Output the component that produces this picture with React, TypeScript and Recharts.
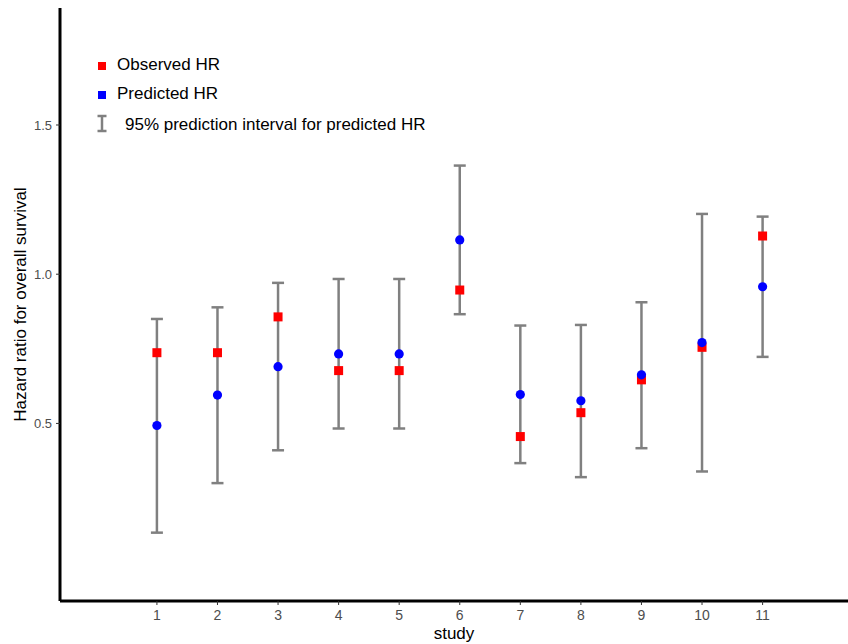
import { ScatterChart, Scatter, XAxis, YAxis, ErrorBar, Legend } from 'recharts';

const studies = [1, 2, 3, 4, 5, 6, 7, 8, 9, 10, 11];
const observedHR = [0.737, 0.737, 0.857, 0.677, 0.677, 0.947, 0.456, 0.536, 0.646, 0.755, 1.128];
const predictedHR = [0.493, 0.595, 0.69, 0.733, 0.733, 1.115, 0.597, 0.576, 0.663, 0.771, 0.958];
const lowerPI = [0.134, 0.3, 0.41, 0.483, 0.483, 0.866, 0.367, 0.32, 0.417, 0.339, 0.723];
const upperPI = [0.85, 0.889, 0.971, 0.984, 0.984, 1.364, 0.828, 0.83, 0.906, 1.202, 1.193];
const yTicks = [0.5, 1.0, 1.5];

const FONT = '"Liberation Sans", Arial, sans-serif';
const BAR_GREY = '#808080';

const observedData = studies.map((s, i) => ({ x: s, y: observedHR[i] }));
const predictedData = studies.map((s, i) => ({ x: s, y: predictedHR[i] }));
const intervalData = studies.map((s, i) => ({
  x: s,
  y: predictedHR[i],
  err: [predictedHR[i] - lowerPI[i], upperPI[i] - predictedHR[i]],
}));

const Square = (props: any) => {
  const { cx, cy } = props;
  return <rect x={cx - 4.5} y={cy - 4.5} width={9} height={9} fill="#ff0000" />;
};

const Dot = (props: any) => {
  const { cx, cy } = props;
  return <circle cx={cx} cy={cy} r={4.6} fill="#0000ff" />;
};

const Nothing = () => <g />;

const LegendBox = () => (
  <svg width={360} height={90} style={{ display: 'block' }}>
    <rect x={8} y={12} width={8} height={8} fill="#ff0000" />
    <text x={27} y={20} fontSize={17} fontFamily={FONT} fill="#000">Observed HR</text>
    <rect x={8} y={41} width={8} height={8} fill="#0000ff" />
    <text x={27} y={49} fontSize={17} fontFamily={FONT} fill="#000">Predicted HR</text>
    <g stroke={BAR_GREY} strokeWidth={2.5}>
      <line x1={12} y1={66} x2={12} y2={81} />
      <line x1={7.5} y1={66} x2={16.5} y2={66} />
      <line x1={7.5} y1={81} x2={16.5} y2={81} />
    </g>
    <text x={35} y={80} fontSize={17} fontFamily={FONT} fill="#000">95% prediction interval for predicted HR</text>
  </svg>
);

export default function App() {
  return (
    <div style={{ position: 'absolute', left: 0, top: 0, width: 848, height: 644, background: '#fff' }}>
      <ScatterChart width={848} height={644} margin={{ top: 8, right: 0, bottom: 0, left: 0 }}>
        <XAxis
          type="number"
          dataKey="x"
          domain={[-0.6, 12.41]}
          ticks={studies}
          allowDataOverflow
          height={43}
          axisLine={{ stroke: '#000', strokeWidth: 3 }}
          tickLine={{ stroke: '#333' }}
          tickSize={4}
          tickMargin={5}
          tick={{ fill: '#4d4d4d', fontSize: 14, fontFamily: FONT }}
          label={{ value: 'study', position: 'insideBottom', offset: 5, fill: '#000', fontSize: 17, fontFamily: FONT }}
        />
        <YAxis
          type="number"
          dataKey="y"
          domain={[-0.095, 1.892]}
          ticks={yTicks}
          allowDataOverflow
          width={60}
          axisLine={{ stroke: '#000', strokeWidth: 3 }}
          tickLine={{ stroke: '#333' }}
          tickSize={4}
          tickMargin={4}
          tickFormatter={(v: number) => v.toFixed(1)}
          tick={{ fill: '#4d4d4d', fontSize: 13, fontFamily: FONT }}
          label={{
            value: 'Hazard ratio for overall survival',
            angle: -90,
            position: 'insideLeft',
            offset: 20,
            fill: '#000',
            fontSize: 17,
            fontFamily: FONT,
            style: { textAnchor: 'middle' },
          }}
        />
        <Legend
          layout="vertical"
          align="center"
          verticalAlign="middle"
          content={() => <LegendBox />}
          wrapperStyle={{ top: 50, left: 90, width: 360, height: 90 }}
        />
        <Scatter name="95% prediction interval for predicted HR" data={intervalData} shape={Nothing} isAnimationActive={false}>
          <ErrorBar dataKey="err" direction="y" width={6} stroke={BAR_GREY} strokeWidth={2.5} isAnimationActive={false} />
        </Scatter>
        <Scatter name="Observed HR" data={observedData} shape={Square} isAnimationActive={false} />
        <Scatter name="Predicted HR" data={predictedData} shape={Dot} isAnimationActive={false} />
      </ScatterChart>
    </div>
  );
}
